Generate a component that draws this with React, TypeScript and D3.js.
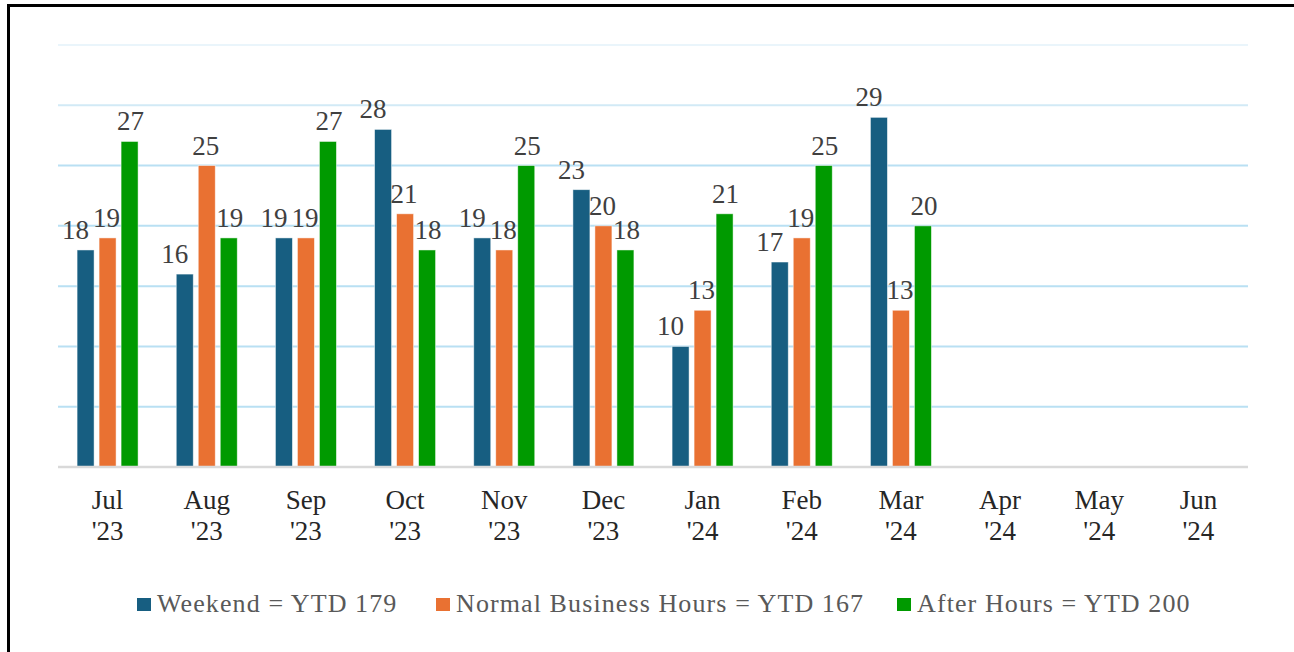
import React from 'react';
import * as d3 from 'd3';

// month labels (two lines each)
const months = ['Jul', 'Aug', 'Sep', 'Oct', 'Nov', 'Dec', 'Jan', 'Feb', 'Mar', 'Apr', 'May', 'Jun'];
const years = ["'23", "'23", "'23", "'23", "'23", "'23", "'24", "'24", "'24", "'24", "'24", "'24"];

const seriesNames = ['Weekend = YTD 179', 'Normal Business Hours = YTD 167', 'After Hours = YTD 200'];
const seriesColors = ['#175e81', '#e97132', '#009a00'];

const weekend = [18, 16, 19, 28, 19, 23, 10, 17, 29];
const businessHours = [19, 25, 19, 21, 18, 20, 13, 19, 13];
const afterHours = [27, 19, 27, 18, 25, 18, 21, 25, 20];

const gridTicks = [0, 5, 10, 15, 20, 25, 30, 35];

export default function App() {
    const width = 1294;
    const height = 652;
    const margin = { left: 58, right: 46, top: 45, bottom: 185 };
    const baseline = height - margin.bottom;

    const x = d3.scaleBand().domain(months).range([margin.left, width - margin.right]).padding(0);
    const y = d3.scaleLinear().domain([0, 35]).range([baseline, margin.top]);

    const barW = 17;
    const gap = 5;
    const groupW = barW * 3 + gap * 2;
    // labels sit a little to the left for the first series, like the original
    const labelShift = [-10, -1, 1];

    const allSeries = [weekend, businessHours, afterHours];

    const gridColor = (t: number) => (t === 35 ? '#eaf5fb' : t === 30 ? '#d2eaf6' : '#b9e0f3');

    return (
        <svg
            width={width}
            height={height}
            style={{ position: 'absolute', left: 0, top: 0, background: '#fff' }}
            fontFamily="'Liberation Serif', 'Times New Roman', serif"
        >
            {/* outer frame */}
            <rect x={8.5} y={5.5} width={1300} height={660} fill="none" stroke="#000" strokeWidth={3} />

            {/* gridlines */}
            {gridTicks.slice(1).map((t) => (
                <line key={t} x1={margin.left} x2={width - margin.right} y1={y(t)} y2={y(t)} stroke={gridColor(t)} strokeWidth={2} />
            ))}

            {/* bars */}
            {allSeries.map((vals, si) =>
                vals.map((v, i) => {
                    const cx = x(months[i])! + x.bandwidth() / 2;
                    const bx = cx - groupW / 2 + si * (barW + gap);
                    return (
                        <rect
                            key={`${si}-${i}`}
                            x={bx}
                            y={y(v)}
                            width={barW}
                            height={baseline - y(v)}
                            fill={seriesColors[si]}
                            stroke="#ffffff"
                            strokeOpacity={0.6}
                            strokeWidth={0.8}
                        />
                    );
                })
            )}

            {/* baseline */}
            <line x1={margin.left} x2={width - margin.right} y1={baseline} y2={baseline} stroke="#d9d9d9" strokeWidth={2.5} />

            {/* data labels */}
            {allSeries.map((vals, si) =>
                vals.map((v, i) => {
                    const cx = x(months[i])! + x.bandwidth() / 2;
                    const bx = cx - groupW / 2 + si * (barW + gap) + barW / 2 + labelShift[si];
                    return (
                        <text key={`l${si}-${i}`} x={bx} y={y(v) - 11} textAnchor="middle" fontSize={27} fill="#404040">
                            {v}
                        </text>
                    );
                })
            )}

            {/* x axis labels */}
            {months.map((m, i) => {
                const cx = x(m)! + x.bandwidth() / 2;
                return (
                    <g key={m}>
                        <text x={cx} y={509} textAnchor="middle" fontSize={27} fill="#262626">
                            {m}
                        </text>
                        <text x={cx} y={540} textAnchor="middle" fontSize={27} fill="#262626">
                            {years[i]}
                        </text>
                    </g>
                );
            })}

            {/* legend */}
            {[137, 436, 897].map((lx, si) => (
                <g key={si}>
                    <rect x={lx} y={598} width={14} height={13} fill={seriesColors[si]} />
                    <text x={lx + 20} y={612} fontSize={26} fill="#595959" letterSpacing={1.1}>
                        {seriesNames[si]}
                    </text>
                </g>
            ))}
        </svg>
    );
}
